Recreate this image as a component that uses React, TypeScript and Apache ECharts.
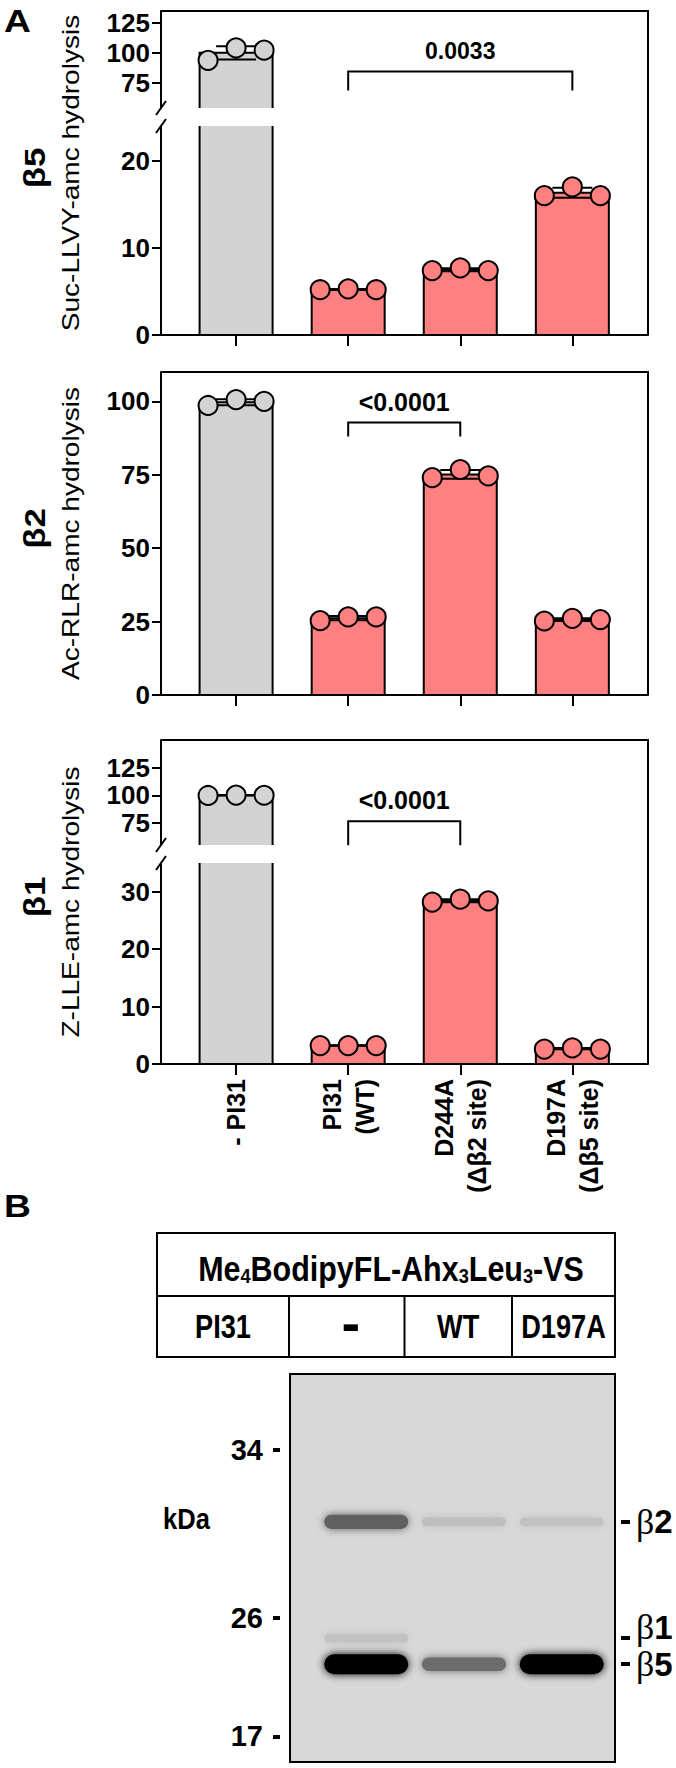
import React, { useEffect, useRef } from 'react';
import * as echarts from 'echarts';

// ---------------- data ----------------
const CATEGORIES = ['- PI31', 'PI31\n(WT)', 'D244A\n(Δβ2 site)', 'D197A\n(Δβ5 site)'];
const CATEGORY_POS = [0, 1, 2, 3];

const BETA5_POINTS = [[93.8, 104.2, 102.3], [5.2, 5.3, 5.2], [7.4, 7.7, 7.4], [16.0, 17.0, 16.0]];
const BETA2_POINTS = [[98.6, 100.6, 100.0], [25.3, 26.6, 26.6], [74.0, 76.8, 74.6], [25.2, 26.1, 25.7]];
const BETA1_POINTS = [[99.8, 100.2, 100.0], [3.2, 3.2, 3.2], [28.2, 28.7, 28.4], [2.6, 2.8, 2.6]];

const BETA5_UPPER_TICKS = [75, 100, 125];
const BETA5_LOWER_TICKS = [0, 10, 20];
const BETA2_TICKS = [0, 25, 50, 75, 100];
const BETA1_UPPER_TICKS = [75, 100, 125];
const BETA1_LOWER_TICKS = [0, 10, 20, 30];

const PANEL_TITLES = ['Suc-LLVY-amc hydrolysis', 'Ac-RLR-amc hydrolysis', 'Z-LLE-amc hydrolysis'];
const PANEL_SUBUNITS = ['β5', 'β2', 'β1'];

const SIG_FROM = [1, 1, 1];
const SIG_TO = [3, 2, 2];
const SIG_Y = [84.5, 92.8, 76.5];
const SIG_LABELS = ['0.0033', '<0.0001', '<0.0001'];

const TABLE_ROW = ['PI31', '-', 'WT', 'D197A'];
const GEL_LANES = [0, 1, 2]; // '-', 'WT', 'D197A'
const MARKER_KDA = [34, 26, 17];
const MARKER_RF = [0.196, 0.629, 0.934];
const BAND_NAMES = ['β2', 'β1', 'β5'];
const BAND_RF = [0.381, 0.681, 0.748];
const BAND_INTENSITY = [
  [0.55, 0.12, 0.1],
  [0.1, 0, 0],
  [1.0, 0.5, 1.0],
];

// ---------------- style / layout ----------------
const FONT = "'Liberation Sans', Arial, Helvetica, sans-serif";
const NARROW = "'Liberation Sans Narrow', 'Arial Narrow', sans-serif";
const BAR_W = 73;
const CAP_W = 40;
const POINT_SIZE = 19;
const JITTER = 0.25;
const LW = 2;
const GRAY = '#d3d3d3';
const RED = '#ff8080';
const BAR_COLORS = [GRAY, RED, RED, RED];
const PLOT_LEFT = 161;
const PLOT_W = 487;
const X_MIN = -0.67;
const X_MAX = 3.675;

const PANELS = [
  {
    points: BETA5_POINTS,
    segs: [
      { top: 11, height: 97, min: 54, max: 135, ticks: BETA5_UPPER_TICKS },
      { top: 126, height: 209, min: 0, max: 24, ticks: BETA5_LOWER_TICKS },
    ],
    sigDrop: 19, sigGap: 20, sigFont: 23,
  },
  {
    points: BETA2_POINTS,
    segs: [{ top: 372, height: 323, min: 0, max: 110, ticks: BETA2_TICKS }],
    sigDrop: 14, sigGap: 21, sigFont: 25,
  },
  {
    points: BETA1_POINTS,
    segs: [
      { top: 740, height: 105, min: 55, max: 150, ticks: BETA1_UPPER_TICKS },
      { top: 863, height: 201, min: 0, max: 35, ticks: BETA1_LOWER_TICKS },
    ],
    sigDrop: 24, sigGap: 21, sigFont: 25,
  },
];

const GEL = { left: 290, top: 1374, width: 325, height: 388 };
const BAND_W = 84;
const TABLE = { left: 157, right: 615, top: 1233, mid: 1296, bottom: 1357, cols: [289, 404.5, 512] };

const mean = (a: number[]) => a.reduce((s, x) => s + x, 0) / a.length;
const sd = (a: number[]) => {
  const m = mean(a);
  return Math.sqrt(a.reduce((s, x) => s + (x - m) * (x - m), 0) / (a.length - 1));
};

function txt(text: string, x: number, y: number, font: string, extra: any = {}, styleExtra: any = {}) {
  return {
    type: 'text', x, y, z: 30, ...extra,
    style: {
      text, x: 0, y: 0, font, fill: '#000',
      align: 'center', verticalAlign: 'middle', textAlign: 'center', textVerticalAlign: 'middle',
      ...styleExtra,
    },
  };
}
function seg(x1: number, y1: number, x2: number, y2: number, w = LW) {
  return { type: 'line', z: 30, shape: { x1, y1, x2, y2 }, style: { stroke: '#000', lineWidth: w } };
}

function barRender(params: any, api: any) {
  const i = api.value(0);
  const v = api.value(1);
  const cs = params.coordSys;
  const pTop = api.coord([i, v]);
  const pBase = api.coord([i, 0]);
  const gTop = cs.y, gBot = cs.y + cs.height;
  const top = Math.max(pTop[1], gTop);
  const base = Math.min(pBase[1], gBot);
  if (top >= base) return null;
  const l = pTop[0] - BAR_W / 2, r = pTop[0] + BAR_W / 2;
  const stroke = { stroke: '#000', lineWidth: LW, fill: 'none' };
  const children: any[] = [
    { type: 'rect', shape: { x: l, y: top, width: BAR_W, height: base - top }, style: { fill: BAR_COLORS[i] } },
  ];
  if (pTop[1] >= gTop) {
    children.push({ type: 'polyline', shape: { points: [[l, base], [l, top], [r, top], [r, base]] }, style: stroke });
  } else {
    children.push({ type: 'line', shape: { x1: l, y1: base, x2: l, y2: top }, style: stroke });
    children.push({ type: 'line', shape: { x1: r, y1: base, x2: r, y2: top }, style: stroke });
  }
  return { type: 'group', children };
}

function errRender(params: any, api: any) {
  const i = api.value(0), m = api.value(1), s = api.value(2);
  const cs = params.coordSys;
  const pm = api.coord([i, m]);
  if (pm[1] < cs.y - 0.5 || pm[1] > cs.y + cs.height + 0.5) return null;
  const hi = api.coord([i, m + s])[1];
  const lo = api.coord([i, m - s])[1];
  const st = { stroke: '#000', lineWidth: LW };
  const cx = pm[0];
  return {
    type: 'group',
    children: [
      { type: 'line', shape: { x1: cx, y1: lo, x2: cx, y2: hi }, style: st },
      { type: 'line', shape: { x1: cx - CAP_W / 2, y1: hi, x2: cx + CAP_W / 2, y2: hi }, style: st },
      { type: 'line', shape: { x1: cx - CAP_W / 2, y1: lo, x2: cx + CAP_W / 2, y2: lo }, style: st },
    ],
  };
}

function bandRender(_params: any, api: any) {
  const lane = api.value(0), rf = api.value(1), I = api.value(2);
  const p = api.coord([lane, rf]);
  const h = 7 + 13 * I;
  const g = Math.round(216 * (1 - I));
  const color = `rgb(${g},${g},${g})`;
  return {
    type: 'rect',
    shape: { x: p[0] - BAND_W / 2, y: p[1] - h / 2, width: BAND_W, height: h, r: h / 2 },
    style: { fill: color, shadowBlur: 9, shadowColor: color },
  };
}

function buildOption() {
  const grids: any[] = [], xAxes: any[] = [], yAxes: any[] = [], series: any[] = [], graphics: any[] = [];
  const axisLabelBase = { color: '#000', fontFamily: FONT, fontWeight: 'bold' };

  PANELS.forEach((p, pi) => {
    const means = p.points.map(mean);
    const sds = p.points.map(sd);
    p.segs.forEach((s, si) => {
      const gi = grids.length;
      const isLast = si === p.segs.length - 1;
      grids.push({ left: PLOT_LEFT, top: s.top, width: PLOT_W, height: s.height, containLabel: false, outerBoundsMode: 'none' });
      xAxes.push({
        gridIndex: gi, type: 'value', min: X_MIN, max: X_MAX, show: isLast, z: 10,
        axisLine: { show: true, onZero: false, lineStyle: { color: '#000', width: LW } },
        axisTick: { show: true, customValues: CATEGORY_POS, length: 11, lineStyle: { color: '#000', width: LW } },
        axisLabel: {
          ...axisLabelBase, show: pi === 2, customValues: CATEGORY_POS,
          formatter: (v: number) => CATEGORIES[Math.round(v)], rotate: 90, margin: 15, fontSize: 25, lineHeight: 33,
        },
        splitLine: { show: false },
      });
      yAxes.push({
        gridIndex: gi, type: 'value', min: s.min, max: s.max, z: 10,
        axisLine: { show: true, onZero: false, lineStyle: { color: '#000', width: LW } },
        axisTick: { show: true, customValues: s.ticks, length: 9, lineStyle: { color: '#000', width: LW } },
        axisLabel: { ...axisLabelBase, customValues: s.ticks, margin: 11, fontSize: 26 },
        splitLine: { show: false },
      });
      series.push({
        type: 'custom', xAxisIndex: gi, yAxisIndex: gi, z: 2, silent: true,
        data: means.map((m, i) => [CATEGORY_POS[i], m]), renderItem: barRender,
      });
      series.push({
        type: 'custom', xAxisIndex: gi, yAxisIndex: gi, z: 3, silent: true,
        data: means.map((m, i) => [CATEGORY_POS[i], m, sds[i]]), renderItem: errRender,
      });
      const pts: any[] = [];
      p.points.forEach((arr, i) =>
        arr.forEach((v, j) => {
          if (v >= s.min && v <= s.max) pts.push({ value: [CATEGORY_POS[i] + (j - 1) * JITTER, v], itemStyle: { color: BAR_COLORS[i] } });
        })
      );
      series.push({
        type: 'scatter', xAxisIndex: gi, yAxisIndex: gi, z: 4, silent: true, clip: false,
        symbol: 'circle', symbolSize: POINT_SIZE,
        itemStyle: { borderColor: '#000', borderWidth: LW, opacity: 1 }, data: pts,
      });
      if (si === 0) {
        const drop = p.sigDrop, gap = p.sigGap, fs = p.sigFont, label = SIG_LABELS[pi];
        series.push({
          type: 'custom', xAxisIndex: gi, yAxisIndex: gi, z: 5, silent: true,
          data: [[SIG_FROM[pi], SIG_TO[pi], SIG_Y[pi]]],
          renderItem: (_pp: any, api: any) => {
            const a = api.coord([api.value(0), api.value(2)]);
            const b = api.coord([api.value(1), api.value(2)]);
            return {
              type: 'group',
              children: [
                { type: 'polyline', shape: { points: [[a[0], a[1] + drop], a, b, [b[0], b[1] + drop]] }, style: { stroke: '#000', lineWidth: LW, fill: 'none' } },
                {
                  type: 'text',
                  style: {
                    text: label, x: (a[0] + b[0]) / 2, y: a[1] - gap, font: `bold ${fs}px ${FONT}`, fill: '#000',
                    align: 'center', verticalAlign: 'middle', textAlign: 'center', textVerticalAlign: 'middle',
                  },
                },
              ],
            };
          },
        });
      }
    });

    // frame (top + right), titles, break marks
    const top = p.segs[0].top;
    const last = p.segs[p.segs.length - 1];
    const bottom = last.top + last.height;
    const right = PLOT_LEFT + PLOT_W;
    graphics.push({ type: 'polyline', z: 30, shape: { points: [[PLOT_LEFT, top], [right, top], [right, bottom]] }, style: { stroke: '#000', lineWidth: LW, fill: 'none' } });
    const cy = (top + bottom) / 2;
    graphics.push(txt(PANEL_TITLES[pi], 71, cy, `23px ${FONT}`, { rotation: Math.PI / 2, scaleX: 1.22 }));
    graphics.push(txt(PANEL_SUBUNITS[pi], 35, cy - 5, `bold 29px ${FONT}`, { rotation: Math.PI / 2, scaleX: 1.2 }));
    if (p.segs.length > 1) {
      const yA = p.segs[0].top + p.segs[0].height;
      const yB = p.segs[1].top;
      [yA, yB].forEach((y) => graphics.push(seg(PLOT_LEFT - 5, y + 7, PLOT_LEFT + 5, y - 7)));
    }
  });

  // panel letters
  graphics.push(txt('A', 17.5, 21, `bold 31px ${FONT}`, { scaleX: 1.2 }));
  graphics.push(txt('B', 17.5, 1206, `bold 31px ${FONT}`, { scaleX: 1.2 }));

  // table
  graphics.push({ type: 'rect', z: 30, shape: { x: TABLE.left, y: TABLE.top, width: TABLE.right - TABLE.left, height: TABLE.bottom - TABLE.top }, style: { fill: 'none', stroke: '#000', lineWidth: LW } });
  graphics.push(seg(TABLE.left, TABLE.mid, TABLE.right, TABLE.mid));
  TABLE.cols.forEach((c) => graphics.push(seg(c, TABLE.mid, c, TABLE.bottom)));
  const bounds = [TABLE.left, ...TABLE.cols, TABLE.right];
  const rowY = (TABLE.mid + TABLE.bottom) / 2;
  TABLE_ROW.forEach((t, i) => {
    const cx = (bounds[i] + bounds[i + 1]) / 2;
    if (t === '-') graphics.push(txt(t, cx + 4, rowY - 4, `bold 56px ${FONT}`));
    else graphics.push(txt(t, cx, rowY, `bold 34px ${FONT}`, { scaleX: 0.8 }));
  });
  graphics.push({
    type: 'text', x: 391, y: 1268.5, z: 30, scaleX: 0.87,
    style: {
      text: '{m|Me}{s|4}{m|BodipyFL-Ahx}{s|3}{m|Leu}{s|3}{m|-VS}', x: 0, y: 0, fill: '#000',
      align: 'center', verticalAlign: 'middle', textAlign: 'center', textVerticalAlign: 'middle',
      rich: {
        m: { fontFamily: FONT, fontWeight: 'bold', fontSize: 35, lineHeight: 35, verticalAlign: 'top', fill: '#000' },
        s: { fontFamily: FONT, fontWeight: 'bold', fontSize: 21, lineHeight: 21, padding: [25, 0, 0, 0], verticalAlign: 'bottom', fill: '#000' },
      },
    },
  });
  graphics.push(txt('kDa', 186.5, 1519, `bold 30px ${FONT}`, { scaleX: 0.85 }));

  // gel
  const gg = grids.length;
  grids.push({ ...GEL, show: true, backgroundColor: '#d8d8d8', borderColor: '#000', borderWidth: LW, containLabel: false, outerBoundsMode: 'none' });
  xAxes.push({ gridIndex: gg, type: 'value', min: -0.78, max: 2.545, show: false });
  yAxes.push({
    gridIndex: gg, type: 'value', inverse: true, min: 0, max: 1, offset: 10, position: 'left',
    axisLine: { show: false, onZero: false },
    axisTick: { show: true, customValues: MARKER_RF, length: 7, lineStyle: { color: '#000', width: 4 } },
    axisLabel: {
      customValues: MARKER_RF, margin: 17, color: '#000', fontFamily: NARROW, fontWeight: 'bold', fontSize: 29,
      formatter: (v: number) => String(MARKER_KDA[MARKER_RF.indexOf(v)]),
    },
    splitLine: { show: false },
  });
  yAxes.push({
    gridIndex: gg, type: 'value', inverse: true, min: 0, max: 1, offset: 6, position: 'right',
    axisLine: { show: false, onZero: false },
    axisTick: { show: true, customValues: BAND_RF, length: 9, lineStyle: { color: '#000', width: 4 } },
    axisLabel: {
      customValues: BAND_RF, margin: 15,
      formatter: (v: number) => {
        const k = BAND_RF.indexOf(v);
        const d = BAND_NAMES[k].slice(1);
        return k === 1 ? `{gu|β}{nu|${d}}` : `{g|β}{n|${d}}`;
      },
      rich: {
        g: { fontFamily: "'Liberation Serif', serif", fontSize: 36, color: '#000' },
        n: { fontFamily: FONT, fontWeight: 'bold', fontSize: 33, color: '#000' },
        gu: { fontFamily: "'Liberation Serif', serif", fontSize: 36, color: '#000', padding: [0, 0, 22, 0] },
        nu: { fontFamily: FONT, fontWeight: 'bold', fontSize: 33, color: '#000', padding: [0, 0, 22, 0] },
      },
    },
    splitLine: { show: false },
  });
  const bandData: any[] = [];
  BAND_RF.forEach((rf, b) =>
    GEL_LANES.forEach((lane, l) => {
      const I = BAND_INTENSITY[b][l];
      if (I > 0) bandData.push([lane, rf, I]);
    })
  );
  series.push({ type: 'custom', xAxisIndex: gg, yAxisIndex: gg, z: 2, silent: true, data: bandData, renderItem: bandRender, clip: true });

  return {
    animation: false,
    backgroundColor: '#fff',
    grid: grids,
    xAxis: xAxes,
    yAxis: yAxes,
    series,
    graphic: { elements: graphics },
  };
}

export default function App() {
  const ref = useRef<HTMLDivElement>(null);
  useEffect(() => {
    if (!ref.current) return;
    const chart = echarts.init(ref.current, null, { renderer: 'svg' });
    chart.setOption(buildOption() as any);
    return () => chart.dispose();
  }, []);
  return <div ref={ref} style={{ position: 'absolute', left: 0, top: 0, width: 676, height: 1768 }} />;
}
